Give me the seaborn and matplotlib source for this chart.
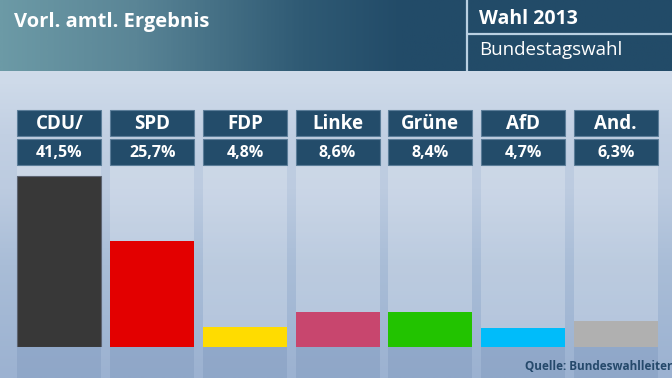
import numpy as np
import pandas as pd
import matplotlib
matplotlib.use("Agg")
import matplotlib.pyplot as plt
import matplotlib.transforms as mtransforms
from matplotlib.colors import LinearSegmentedColormap
from matplotlib.patches import Rectangle
import seaborn as sns

parties = ["CDU/", "SPD", "FDP", "Linke", "Grüne", "AfD", "And."]
shares = [41.5, 25.7, 4.8, 8.6, 8.4, 4.7, 6.3]
share_labels = ["41,5%", "25,7%", "4,8%", "8,6%", "8,4%", "4,7%", "6,3%"]
bar_colors = ["#383838", "#e30000", "#ffdc00", "#c8466e", "#22c300", "#00bcfa", "#b0b0b0"]

title = "Vorl. amtl. Ergebnis"
box_title = "Wahl 2013"
box_subtitle = "Bundestagswahl"
source = "Quelle: Bundeswahlleiter"

W, H = 672, 378
sns.set_style("white")
plt.rcParams["font.family"] = ["Open Sans", "DejaVu Sans"]

fig = plt.figure(figsize=(W / 100, H / 100), dpi=100)


def px(x0, y0, x1, y1):
    # pixel box (top-left origin) -> figure fraction rect
    return [x0 / W, 1 - y1 / H, (x1 - x0) / W, (y1 - y0) / H]


# background gradient
bg = fig.add_axes([0, 0, 1, 1])
bg_cmap = LinearSegmentedColormap.from_list(
    "bg", [(0.0, "#d6e1ed"), (0.22, "#cedae9"), (0.35, "#c2d0e3"),
           (0.5, "#bccbe0"), (0.7, "#a9bdd7"), (1.0, "#9cb2d1")])
bg.imshow(np.linspace(0, 1, 300).reshape(-1, 1), aspect="auto", cmap=bg_cmap,
          extent=[0, 1, 0, 1], origin="upper")
bg.set_axis_off()

# header band
hd = fig.add_axes(px(0, 0, W, 71))
hd_cmap = LinearSegmentedColormap.from_list(
    "hd", [(0.0, "#6c9aa6"), (0.2, "#5a8596"), (0.45, "#2f5a74"), (0.6, "#224b68"), (1.0, "#224b68")])
hd.imshow(np.linspace(0, 1, 400).reshape(1, -1), aspect="auto", cmap=hd_cmap,
          extent=[0, W, 71, 0])
hd.set_axis_off()
hd.set_xlim(0, W)
hd.set_ylim(71, 0)
hd.plot([467, 467], [0, 71], color="#b9d0e2", lw=1.6)
hd.plot([467, W], [34, 34], color="#b9d0e2", lw=1.6)
hd.text(14, 27.5, title, color="white", fontsize=14.5, fontweight="bold", va="baseline")
hd.text(479, 24, box_title, color="white", fontsize=14, fontweight="bold", va="baseline")
hd.text(479, 55, box_subtitle, color="white", fontsize=13.5, va="baseline")

# bar axes: bottom at y=347, top at y=165
ax_top, ax_bot = 165, 347
ax = fig.add_axes(px(13.1, ax_top, 13.1 + 649, ax_bot))
ax.patch.set_alpha(0)
ax_h = ax_bot - ax_top
ymax = ax_h / 4.12
bw = 0.906

df = pd.DataFrame({"party": parties, "share": shares})
trans = mtransforms.blended_transform_factory(ax.transData, ax.transAxes)
for i in range(len(parties)):
    # light column behind bar
    ax.add_patch(Rectangle((i - bw / 2, 0), bw, 1, transform=trans, color="white",
                           alpha=0.22, lw=0, zorder=0))
    # darker part below baseline
    ax.add_patch(Rectangle((i - bw / 2, -31 / ax_h), bw, 31 / ax_h, transform=trans,
                           color="#6f8bb3", alpha=0.28, lw=0, clip_on=False, zorder=0))

sns.barplot(data=df, x="party", y="share", hue="party", palette=bar_colors,
            legend=False, width=bw, saturation=1, linewidth=0, ax=ax, zorder=2)
ax.patches[-7].set_edgecolor("#5d6472")
ax.patches[-7].set_linewidth(0.8)

for i, (name, lab) in enumerate(zip(parties, share_labels)):
    for (y0, y1, txt, fs) in [(110, 136, name, 13.5), (139, 165, lab, 11.5)]:
        b = (ax_bot - y1) / ax_h
        t = (ax_bot - y0) / ax_h
        ax.add_patch(Rectangle((i - bw / 2, b), bw, t - b, transform=trans,
                               facecolor="#234c6a", edgecolor="#5b7d99", lw=0.8,
                               clip_on=False, zorder=3))
        ax.text(i, (b + t) / 2 - 0.005, txt, transform=trans, ha="center", va="center",
                color="white", fontsize=fs, fontweight="bold", zorder=4)

ax.set_xlim(-0.5, len(parties) - 0.5)
ax.set_ylim(0, ymax)
ax.set_axis_off()

fig.text(672 / W, 1 - 370 / H, source, ha="right", va="baseline", fontsize=8.5,
         fontweight="bold", color="#25496b")

fig.savefig("out.png", dpi=100)
